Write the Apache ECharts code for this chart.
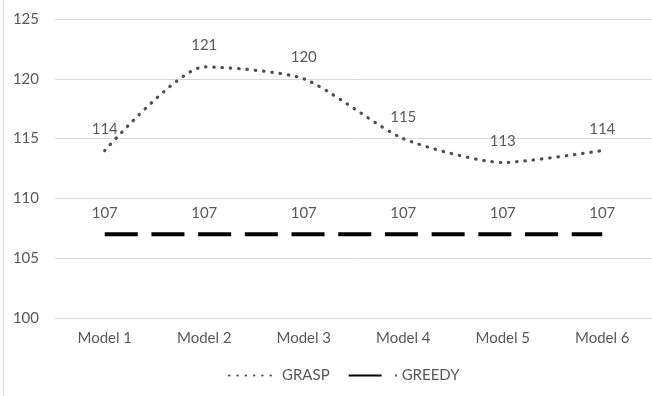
<!DOCTYPE html>
<html>
<head>
<meta charset="utf-8">
<script src="https://cdn.jsdelivr.net/npm/echarts@6/dist/echarts.min.js"></script>
<style>
  html, body { margin: 0; padding: 0; background: #fff; }
  #chart { width: 652px; height: 396px; }
</style>
</head>
<body>
<div id="chart"></div>
<script>
// Categories and the two series compared across them
const models = ['Model 1', 'Model 2', 'Model 3', 'Model 4', 'Model 5', 'Model 6'];
const graspValues = [114, 121, 120, 115, 113, 114];
const greedyValues = [107, 107, 107, 107, 107, 107];
const yTicks = { min: 100, max: 125, step: 5 };

const textGray = '#595959';
const gridGray = '#d9d9d9';
const fontFamily = 'Lato, "Open Sans", sans-serif';

const chart = echarts.init(document.getElementById('chart'), null, { renderer: 'canvas' });

const labelStyle = {
  show: true,
  position: 'top',
  distance: 14,
  color: textGray,
  fontSize: 15,
  fontFamily: fontFamily
};

chart.setOption({
  animation: false,
  backgroundColor: '#fff',
  textStyle: { fontFamily: fontFamily },
  graphic: [{
    type: 'line',
    shape: { x1: 3.5, y1: 0, x2: 3.5, y2: 396 },
    style: { stroke: gridGray, lineWidth: 1 },
    silent: true
  }],
  grid: { left: 55, width: 600, top: 19, bottom: 78, containLabel: false },
  legend: {
    bottom: 8,
    left: 223,
    itemWidth: 48,
    itemHeight: 14,
    itemGap: 18,
    itemStyle: { opacity: 0 },
    textStyle: { color: textGray, fontSize: 15, fontFamily: fontFamily },
    data: ['GRASP', 'GREEDY']
  },
  xAxis: {
    type: 'category',
    data: models,
    boundaryGap: true,
    axisLine: { show: true, lineStyle: { color: gridGray } },
    axisTick: { show: false },
    axisLabel: { color: textGray, fontSize: 15, margin: 13, fontFamily: fontFamily }
  },
  yAxis: {
    type: 'value',
    min: yTicks.min,
    max: yTicks.max,
    interval: yTicks.step,
    axisLine: { show: false },
    axisTick: { show: false },
    splitLine: { lineStyle: { color: gridGray, width: 1 } },
    axisLabel: { color: textGray, fontSize: 15, margin: 16, fontFamily: fontFamily }
  },
  series: [
    {
      name: 'GRASP',
      type: 'line',
      data: graspValues,
      smooth: 0.22,
      symbol: 'circle',
      symbolSize: 0,
      showSymbol: true,
      lineStyle: { color: '#505050', width: 3.2, type: [0.5, 7.8], cap: 'round' },
      itemStyle: { color: '#505050' },
      label: labelStyle
    },
    {
      name: 'GREEDY',
      type: 'line',
      data: greedyValues,
      symbol: 'circle',
      symbolSize: 0,
      showSymbol: true,
      lineStyle: { color: '#000000', width: 4, type: [33, 13.7], cap: 'butt' },
      itemStyle: { color: '#000000' },
      label: labelStyle
    }
  ]
});
</script>
</body>
</html>
